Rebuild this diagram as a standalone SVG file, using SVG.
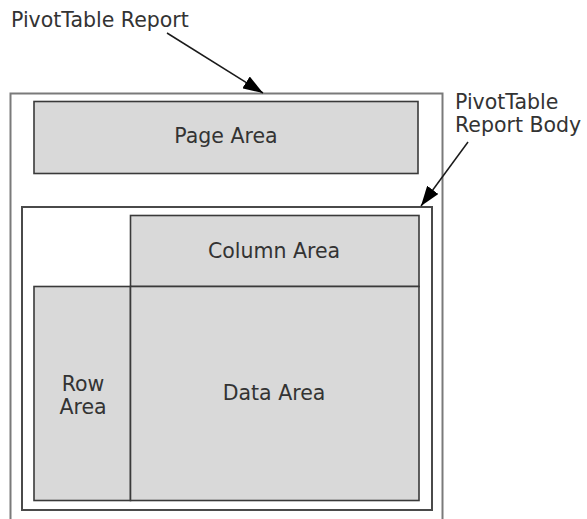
<svg xmlns="http://www.w3.org/2000/svg" width="587" height="519" viewBox="0 0 587 519">
<style>
.lbl{font-family:"DejaVu Sans","Liberation Sans",sans-serif;font-size:20.5px;fill:#333}
.area{fill:#d9d9d9;stroke:#3a3a3a;stroke-width:1.6}
.frame{fill:none}
.con{stroke:#1a1a1a;stroke-width:1.5;fill:none}
</style>
<defs>
<marker id="ah" viewBox="0 0 20 14" refX="20" refY="7" markerWidth="20" markerHeight="14" markerUnits="userSpaceOnUse" orient="auto">
<path d="M0,0 L20,7 L0,14 Z" fill="#000"/>
</marker>
</defs>
<rect width="587" height="519" fill="#fff"/>
<g id="report">
<rect class="frame" x="10.5" y="93.5" width="432" height="440" stroke="#7a7a7a" stroke-width="2"/>
</g>
<g id="report-label">
<text class="lbl" x="11" y="27">PivotTable Report</text>
</g>
<g id="page-area">
<rect class="area" x="34" y="101.5" width="384" height="72"/>
<text class="lbl" x="226" y="143" text-anchor="middle">Page Area</text>
</g>
<g id="body">
<rect class="frame" x="22" y="207" width="410" height="303" stroke="#4a4a4a" stroke-width="2"/>
</g>
<g id="body-label">
<text class="lbl" x="455" y="109">PivotTable</text>
<text class="lbl" x="455" y="132">Report Body</text>
</g>
<g id="column-area">
<rect class="area" x="130.5" y="215.5" width="288.5" height="71"/>
<text class="lbl" x="274" y="258" text-anchor="middle">Column Area</text>
</g>
<g id="row-area">
<rect class="area" x="34" y="286.5" width="96.5" height="214"/>
<text class="lbl" x="83" y="391" text-anchor="middle">Row</text>
<text class="lbl" x="83" y="414" text-anchor="middle">Area</text>
</g>
<g id="data-area">
<rect class="area" x="130.5" y="286.5" width="288.5" height="214"/>
<text class="lbl" x="274" y="400" text-anchor="middle">Data Area</text>
</g>
<g id="connectors">
<line class="con" x1="167" y1="33" x2="263" y2="93" marker-end="url(#ah)"/>
<line class="con" x1="468" y1="142" x2="421" y2="206" marker-end="url(#ah)"/>
</g>
</svg>
